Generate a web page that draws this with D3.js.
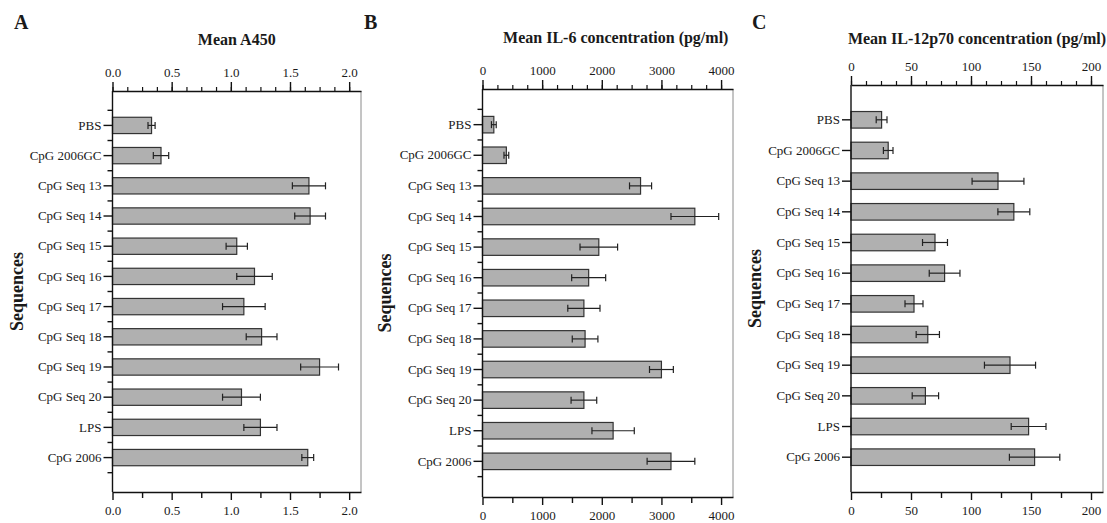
<!DOCTYPE html>
<html>
<head>
<meta charset="utf-8">
<script src="https://cdn.jsdelivr.net/npm/d3@7"></script>
<style>
  html, body { margin: 0; padding: 0; background: #fff; }
  svg { display: block; }
  text { font-family: "Liberation Serif", "Times New Roman", serif; fill: #1a1a1a; }
</style>
</head>
<body>
<svg id="chart" width="1107" height="523"></svg>
<script>
// ---------- DATA ----------
const categories = ["PBS", "CpG 2006GC", "CpG Seq 13", "CpG Seq 14", "CpG Seq 15", "CpG Seq 16",
                    "CpG Seq 17", "CpG Seq 18", "CpG Seq 19", "CpG Seq 20", "LPS", "CpG 2006"];

const a450Mean = [0.33, 0.41, 1.66, 1.67, 1.05, 1.20, 1.11, 1.26, 1.75, 1.09, 1.25, 1.65];
const a450Err  = [0.03, 0.065, 0.14, 0.13, 0.09, 0.15, 0.18, 0.13, 0.16, 0.16, 0.14, 0.05];

const il6Mean = [190, 400, 2650, 3560, 1950, 1780, 1700, 1720, 3000, 1700, 2190, 3160];
const il6Err  = [40, 40, 185, 400, 315, 285, 270, 215, 200, 215, 355, 400];

const il12Mean = [25.5, 31, 122.5, 135.7, 70, 78, 52.5, 64, 132.5, 62, 148, 153];
const il12Err  = [4.5, 4, 21.6, 13.3, 10.4, 12.8, 7.5, 9.7, 21.3, 11, 14.5, 21];

const panelLetters = ["A", "B", "C"];
const panelTitles = ["Mean A450", "Mean IL-6 concentration (pg/ml)", "Mean IL-12p70 concentration (pg/ml)"];
const yAxisTitle = "Sequences";

const ticksA = [0, 0.5, 1.0, 1.5, 2.0];
const ticksB = [0, 1000, 2000, 3000, 4000];
const ticksC = [0, 50, 100, 150, 200];

// ---------- DRAW ----------
const svg = d3.select("#chart");

function drawPanel(cfg) {
  const g = svg.append("g");
  const x = d3.scaleLinear().domain([0, cfg.max]).range([cfg.left, cfg.right]);
  const y = d3.scaleBand().domain(categories).range([cfg.top, cfg.bottom])
              .paddingOuter(cfg.po).paddingInner(0.46);
  const step = y.step();
  const yc = d => y(d) + y.bandwidth() / 2;

  // right frame line
  g.append("line").attr("x1", cfg.right).attr("x2", cfg.right)
    .attr("y1", cfg.top).attr("y2", cfg.bottom)
    .attr("stroke", "#8a8a8a").attr("stroke-width", 1);

  // bars
  const data = categories.map((c, i) => ({c, m: cfg.mean[i], e: cfg.err[i]}));
  g.selectAll("rect.bar").data(data).enter().append("rect")
    .attr("x", x(0)).attr("y", d => y(d.c))
    .attr("width", d => x(d.m) - x(0)).attr("height", y.bandwidth())
    .attr("fill", "#b0b0b0").attr("stroke", "#333").attr("stroke-width", 1.2);

  // error bars
  const eb = g.selectAll("g.err").data(data).enter().append("g")
    .attr("stroke", "#222").attr("stroke-width", 1.2);
  eb.append("line").attr("x1", d => x(d.m - d.e)).attr("x2", d => x(d.m + d.e))
    .attr("y1", d => yc(d.c)).attr("y2", d => yc(d.c));
  eb.append("line").attr("x1", d => x(d.m - d.e)).attr("x2", d => x(d.m - d.e))
    .attr("y1", d => yc(d.c) - 3.5).attr("y2", d => yc(d.c) + 3.5);
  eb.append("line").attr("x1", d => x(d.m + d.e)).attr("x2", d => x(d.m + d.e))
    .attr("y1", d => yc(d.c) - 3.5).attr("y2", d => yc(d.c) + 3.5);

  // top axis: minor ticks
  const topMinor = d3.range(0, cfg.ticks[cfg.ticks.length - 1] + 1e-9, cfg.topMinor);
  g.append("g").attr("transform", `translate(0,${cfg.top})`)
    .call(d3.axisTop(x).tickValues(topMinor).tickSize(4).tickFormat(""))
    .call(a => a.select(".domain").remove())
    .selectAll("line").attr("stroke", "#111").attr("stroke-width", 1.2);
  // top axis: major
  const topAx = g.append("g").attr("transform", `translate(0,${cfg.top})`)
    .call(d3.axisTop(x).tickValues(cfg.ticks).tickSize(9).tickSizeOuter(0).tickPadding(5).tickFormat(cfg.fmt));
  topAx.select(".domain").attr("stroke", "#111").attr("stroke-width", 1.4);
  topAx.selectAll("line").attr("stroke", "#111").attr("stroke-width", 1.4);
  topAx.selectAll("text").attr("font-size", 13).attr("font-family", "Liberation Serif").attr("fill", "#1a1a1a");

  // bottom axis
  const botMinor = d3.range(0, cfg.ticks[cfg.ticks.length - 1] + 1e-9, cfg.botMinor);
  g.append("g").attr("transform", `translate(0,${cfg.bottom})`)
    .call(d3.axisBottom(x).tickValues(botMinor.filter(v => !cfg.ticks.some(t => Math.abs(t - v) < 1e-9)))
      .tickSize(6).tickFormat(""))
    .call(a => a.select(".domain").remove())
    .selectAll("line").attr("stroke", "#111").attr("stroke-width", 1.4);
  const botAx = g.append("g").attr("transform", `translate(0,${cfg.bottom})`)
    .call(d3.axisBottom(x).tickValues(cfg.ticks).tickSize(8).tickSizeOuter(0).tickPadding(6).tickFormat(cfg.fmt));
  botAx.select(".domain").attr("stroke", "#111").attr("stroke-width", 1.4);
  botAx.selectAll("line").attr("stroke", "#111").attr("stroke-width", 1.4);
  botAx.selectAll("text").attr("font-size", 13).attr("font-family", "Liberation Serif").attr("fill", "#1a1a1a");

  // left axis
  const leftAx = g.append("g").attr("transform", `translate(${cfg.left},0)`)
    .call(d3.axisLeft(y).tickSize(9).tickSizeOuter(0).tickPadding(2));
  leftAx.select(".domain").attr("d", `M0,${cfg.top}V${cfg.bottom}`)
    .attr("stroke", "#111").attr("stroke-width", 1.4);
  leftAx.selectAll("line").attr("stroke", "#111").attr("stroke-width", 1.4);
  leftAx.selectAll("text").attr("font-size", 13).attr("font-family", "Liberation Serif").attr("fill", "#1a1a1a");

  if (cfg.minorCat) {
    const mids = categories.map(c => yc(c) - step / 2).concat([yc(categories[categories.length - 1]) + step / 2]);
    g.selectAll("line.minorcat").data(mids).enter().append("line")
      .attr("x1", cfg.left - 5).attr("x2", cfg.left)
      .attr("y1", d => d).attr("y2", d => d)
      .attr("stroke", "#111").attr("stroke-width", 1.4);
  }

  // y title
  g.append("text")
    .attr("transform", `translate(${cfg.yTitleX},${(cfg.top + cfg.bottom) / 2}) rotate(-90)`)
    .attr("text-anchor", "middle").attr("dy", "0.35em")
    .attr("font-size", 18).attr("font-weight", "bold").text(yAxisTitle);

  // panel title
  g.append("text").attr("x", (cfg.left + cfg.right) / 2 + cfg.titleDx).attr("y", cfg.titleY)
    .attr("text-anchor", "middle").attr("font-size", 16).attr("font-weight", "bold").text(cfg.title);

  // panel letter
  g.append("text").attr("x", cfg.letterX).attr("y", 29)
    .attr("font-size", 20).attr("font-weight", "bold").text(cfg.letter);
}

drawPanel({ letter: panelLetters[0], title: panelTitles[0], mean: a450Mean, err: a450Err,
  max: 2.1, left: 112.5, right: 361, top: 91, bottom: 492, po: 0.87,
  ticks: ticksA, topMinor: 0.125, botMinor: 0.25, fmt: d3.format(".1f"),
  minorCat: true, yTitleX: 17, titleY: 45, titleDx: 0, letterX: 14 });

drawPanel({ letter: panelLetters[1], title: panelTitles[1], mean: il6Mean, err: il6Err,
  max: 4200, left: 482.5, right: 733, top: 89, bottom: 497, po: 0.895,
  ticks: ticksB, topMinor: 250, botMinor: 500, fmt: d3.format("d"),
  minorCat: true, yTitleX: 385, titleY: 43, titleDx: 8, letterX: 364 });

drawPanel({ letter: panelLetters[2], title: panelTitles[2], mean: il12Mean, err: il12Err,
  max: 210, left: 851, right: 1103, top: 85, bottom: 492, po: 0.865,
  ticks: ticksC, topMinor: 12.5, botMinor: 25, fmt: d3.format("d"),
  minorCat: false, yTitleX: 755, titleY: 44, titleDx: 0, letterX: 752 });
</script>
</body>
</html>
